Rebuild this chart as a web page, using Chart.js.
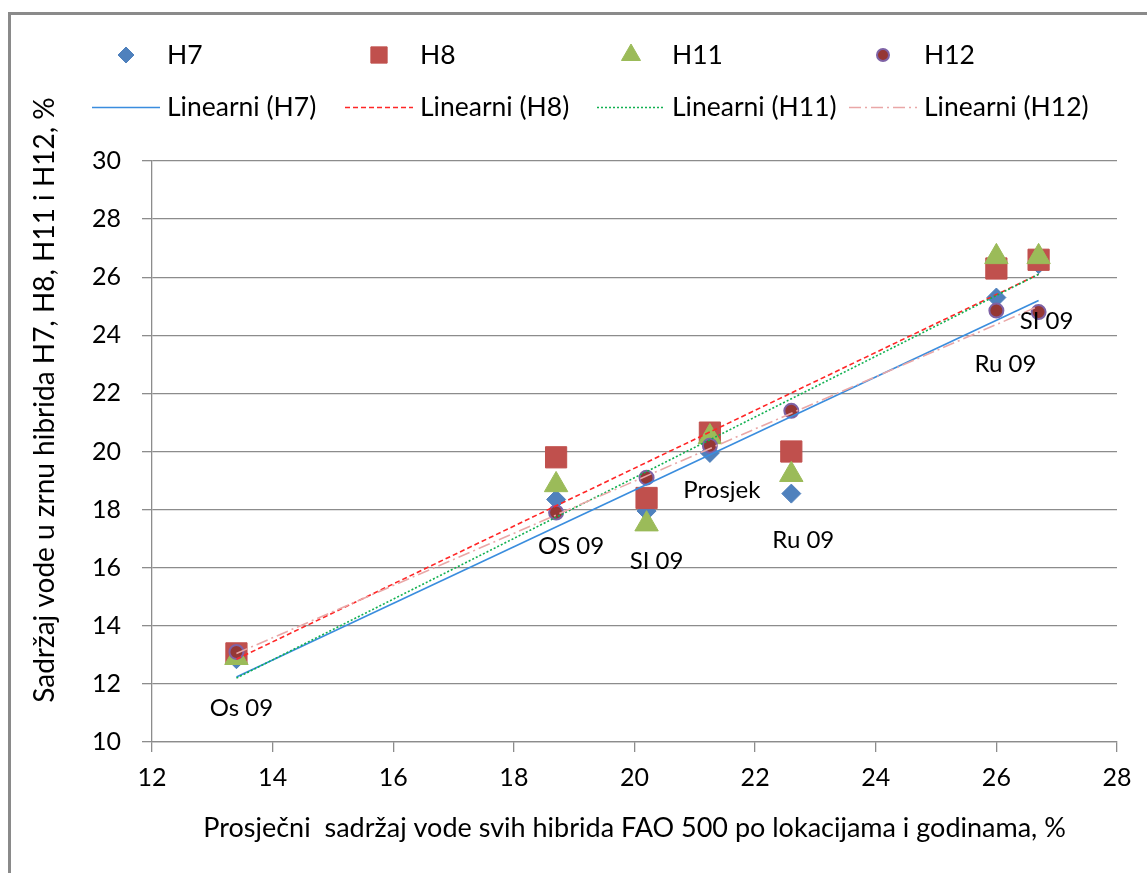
<!DOCTYPE html>
<html><head><meta charset="utf-8">
<script src="https://cdn.jsdelivr.net/npm/chart.js@4.4.1/dist/chart.umd.min.js"></script>
<style>
html,body{margin:0;padding:0;background:#fff;}
#c{display:block;}
</style></head><body>
<canvas id="c" width="1147" height="873"></canvas>
<script>
// ---- data ----
const categories = ['Os 09', 'OS 09', 'SI 09', 'Prosjek', 'Ru 09', 'Ru 09', 'SI 09'];
const xValues = [13.4, 18.7, 20.2, 21.25, 22.6, 26.0, 26.7];
const h7  = [12.85, 18.35, 17.95, 19.95, 18.55, 25.3, 26.45];
const h8  = [13.05, 19.8, 18.4, 20.65, 20.0, 26.3, 26.6];
const h11 = [12.9, 18.85, 17.5, 20.5, 19.2, 26.7, 26.7];
const h12 = [13.1, 17.9, 19.1, 20.2, 21.4, 24.85, 24.8];
// trend line end points (Excel linear trendlines)
const trendX   = [13.4, 26.7];
const trendH7  = [12.24, 25.2];
const trendH8  = [12.85, 26.1];
const trendH11 = [12.2, 26.1];
const trendH12 = [13.05, 25.0];
const seriesNames = ['H7', 'H8', 'H11', 'H12'];
const trendNames = ['Linearni (H7)', 'Linearni (H8)', 'Linearni (H11)', 'Linearni (H12)'];
const xTicks = [12, 14, 16, 18, 20, 22, 24, 26, 28];
const yTicks = [10, 12, 14, 16, 18, 20, 22, 24, 26, 28, 30];
const xTitle = 'Prosječni  sadržaj vode svih hibrida FAO 500 po lokacijama i godinama, %';
const yTitle = 'Sadržaj vode u zrnu hibrida H7, H8, H11 i H12, %';

// ---- styles ----
const FONT = 'Lato, "Open Sans", sans-serif';
const labelOffsets = [[5, 56], [15, 34], [10, 84], [12, 45], [12, 129], [9, 54], [8, 9]];

function pts(xs, ys) { return xs.map((x, i) => ({x: x, y: ys[i]})); }

const markerDefs = [
  {data: h7,  style: 'rectRot', r: 9.5, fill: '#4F81BD', border: '#4F81BD', bw: 1, lr: 8},
  {data: h8,  style: 'rect', r: 15, fill: '#C0504D', border: '#C0504D', bw: 1, lr: 11.5},
  {data: h11, style: 'triangle', r: 13.5, fill: '#9BBB59', border: '#9BBB59', bw: 1, lr: 11},
  {data: h12, style: 'circle', r: 7, fill: '#953735', border: '#7E62A5', bw: 2, lr: 6}
];
const trendDefs = [
  {data: trendH7,  color: '#3A8DDE', dash: []},
  {data: trendH8,  color: '#FF2626', dash: [5, 3]},
  {data: trendH11, color: '#10B050', dash: [2, 2]},
  {data: trendH12, color: '#E9A7A7', dash: [12, 4, 2, 4]}
];

const datasets = [];
markerDefs.forEach((m, i) => {
  datasets.push({
    type: 'scatter', label: seriesNames[i], data: pts(xValues, m.data),
    pointStyle: m.style, pointRadius: m.r, pointHoverRadius: m.r,
    backgroundColor: m.fill, borderColor: m.border, pointBorderWidth: m.bw,
    order: 10 - i, legendRadius: m.lr
  });
});
trendDefs.forEach((t, i) => {
  datasets.push({
    type: 'line', label: trendNames[i], data: pts(trendX, t.data),
    borderColor: t.color, borderWidth: 1.6, borderDash: t.dash,
    pointRadius: 0, fill: false, showLine: true, order: 4 - i
  });
});

function drawMarker(ctx, style, r, x, y, fill, border, bw) {
  ctx.save();
  ctx.beginPath();
  if (style === 'rectRot') {
    ctx.moveTo(x, y - r); ctx.lineTo(x + r, y); ctx.lineTo(x, y + r); ctx.lineTo(x - r, y);
  } else if (style === 'rect') {
    const s = r * Math.SQRT1_2; ctx.rect(x - s, y - s, 2 * s, 2 * s);
  } else if (style === 'triangle') {
    ctx.moveTo(x, y - r);
    ctx.lineTo(x + Math.sin(Math.PI / 3) * r, y + r / 2);
    ctx.lineTo(x - Math.sin(Math.PI / 3) * r, y + r / 2);
  } else {
    ctx.arc(x, y, r, 0, Math.PI * 2);
  }
  ctx.closePath();
  ctx.fillStyle = fill; ctx.fill();
  ctx.lineWidth = bw; ctx.strokeStyle = border; ctx.stroke();
  ctx.restore();
}

const decorPlugin = {
  id: 'decor',
  beforeDraw(chart) {
    const ctx = chart.ctx;
    ctx.save();
    ctx.fillStyle = '#fff'; ctx.fillRect(0, 0, chart.width, chart.height);
    ctx.strokeStyle = '#8a8a8a'; ctx.lineWidth = 3;
    ctx.beginPath(); ctx.moveTo(9.5, 873); ctx.lineTo(9.5, 13.5); ctx.lineTo(1147, 13.5); ctx.stroke();
    ctx.restore();
  },
  afterDraw(chart) {
    const ctx = chart.ctx;
    const ds = chart.data.datasets;
    const cols = [92, 345, 597, 849];
    ctx.save();
    ctx.font = '26.5px ' + FONT; ctx.fillStyle = '#000'; ctx.textBaseline = 'middle'; ctx.textAlign = 'left';
    for (let i = 0; i < 4; i++) {
      const d = ds[i];
      drawMarker(ctx, d.pointStyle, d.legendRadius, cols[i] + 34, 55, d.backgroundColor, d.borderColor, d.pointBorderWidth);
      ctx.fillStyle = '#000';
      ctx.fillText(d.label, cols[i] + 75, 55);
    }
    for (let i = 0; i < 4; i++) {
      const d = ds[4 + i];
      ctx.save();
      ctx.strokeStyle = d.borderColor; ctx.lineWidth = 1.6; ctx.setLineDash(d.borderDash);
      ctx.beginPath(); ctx.moveTo(cols[i], 107.5); ctx.lineTo(cols[i] + 68, 107.5); ctx.stroke();
      ctx.restore();
      ctx.fillText(d.label, cols[i] + 75, 107);
    }
    // point labels
    const xs = chart.scales.x, ys = chart.scales.y;
    ctx.font = '24px ' + FONT;
    ctx.textAlign = 'center';
    categories.forEach((c, i) => {
      const px = xs.getPixelForValue(xValues[i]) + labelOffsets[i][0];
      const py = ys.getPixelForValue(h12[i]) + labelOffsets[i][1];
      ctx.fillText(c, px, py);
    });
    // y title
    ctx.font = '28px ' + FONT;
    ctx.translate(45, 400);
    ctx.rotate(-Math.PI / 2);
    ctx.fillText(yTitle, 0, 0);
    ctx.restore();
  }
};

Chart.defaults.font.family = FONT;
Chart.defaults.color = '#000';

new Chart(document.getElementById('c'), {
  data: {datasets: datasets},
  options: {
    responsive: false, animation: false,
    layout: {padding: {left: 0, right: 30, top: 161, bottom: 0}},
    plugins: {legend: {display: false}, tooltip: {enabled: false}},
    scales: {
      x: {
        type: 'linear', min: 12, max: 28,
        afterBuildTicks(s) { s.ticks = xTicks.map(v => ({value: v})); },
        afterFit(s) { s.height = 131; },
        ticks: {font: {size: 25}, padding: 11, color: '#000'},
        grid: {drawOnChartArea: false, drawTicks: true, tickLength: 10, color: '#8c8c8c', lineWidth: 1.3},
        border: {color: '#8c8c8c', width: 1.3},
        title: {display: true, text: xTitle, font: {size: 27}, padding: {top: 0, bottom: 29}, color: '#000'}
      },
      y: {
        type: 'linear', min: 10, max: 30,
        afterBuildTicks(s) { s.ticks = yTicks.map(v => ({value: v})); },
        afterFit(s) { s.width = 152; },
        ticks: {font: {size: 25}, padding: 21, color: '#000'},
        grid: {drawTicks: true, tickLength: 10, color: '#8c8c8c', lineWidth: 1.3},
        border: {color: '#8c8c8c', width: 1.3}
      }
    }
  },
  plugins: [decorPlugin]
});
</script>
</body></html>
